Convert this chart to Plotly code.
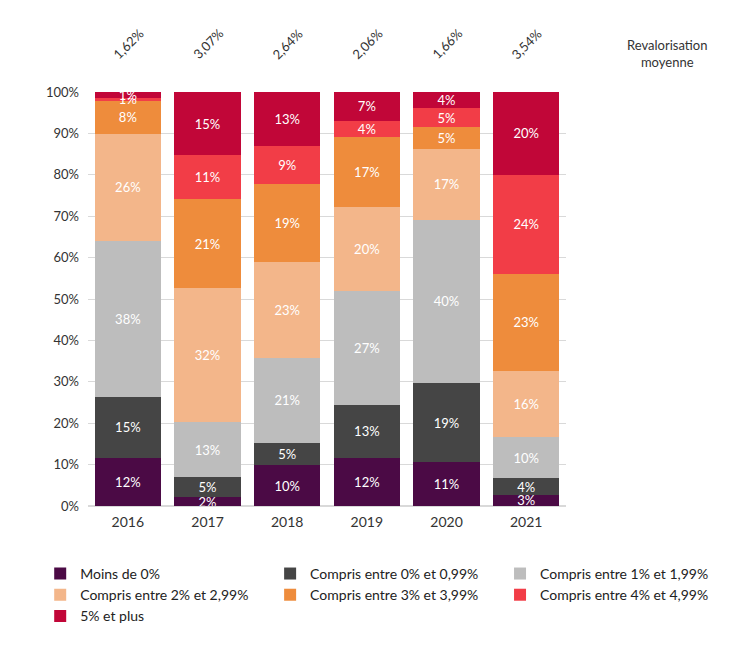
import plotly.graph_objects as go

years = ["2016", "2017", "2018", "2019", "2020", "2021"]
avg_labels = ["1,62%", "3,07%", "2,64%", "2,06%", "1,66%", "3,54%"]

series_names = [
    "Moins de 0%",
    "Compris entre 0% et 0,99%",
    "Compris entre 1% et 1,99%",
    "Compris entre 2% et 2,99%",
    "Compris entre 3% et 3,99%",
    "Compris entre 4% et 4,99%",
    "5% et plus",
]
moins_0 = [11.6, 2.1, 9.9, 11.7, 10.6, 2.7]
entre_0_099 = [14.8, 4.8, 5.3, 12.8, 19.0, 4.0]
entre_1_199 = [37.6, 13.4, 20.6, 27.4, 39.6, 10.0]
entre_2_299 = [25.9, 32.4, 23.1, 20.4, 17.1, 16.0]
entre_3_399 = [7.9, 21.4, 18.8, 16.9, 5.2, 23.3]
entre_4_499 = [0.8, 10.6, 9.3, 3.8, 4.6, 24.0]
plus_5 = [1.4, 15.3, 13.0, 7.0, 3.9, 20.0]

series_values = [moins_0, entre_0_099, entre_1_199, entre_2_299,
                 entre_3_399, entre_4_499, plus_5]
colors = ["#4B0A45", "#454545", "#BDBDBD", "#F3B68A", "#EE8C3C", "#F23D47", "#C10638"]
# legend column (3 columns, filled row by row like the reference)
legend_ids = ["legend", "legend2", "legend3", "legend", "legend2", "legend3", "legend"]

y_ticks = list(range(0, 101, 10))
y_tick_labels = [f"{v}%" for v in y_ticks]

FONT = "Lato"

fig = go.Figure()
for name, vals, col, lg in zip(series_names, series_values, colors, legend_ids):
    fig.add_trace(go.Bar(
        x=years, y=vals, name=name,
        marker=dict(color=col, line=dict(width=0)),
        texttemplate="%{y:.0f}%",
        textposition="inside",
        insidetextanchor="middle",
        textangle=0,
        textfont=dict(color="white", size=13, family=FONT),
        hoverinfo="skip",
        legend=lg,
    ))

for i, lab in enumerate(avg_labels):
    fig.add_annotation(x=i, xref="x", y=1.117, yref="paper",
                       xanchor="center", yanchor="middle",
                       text=lab, textangle=-45, showarrow=False,
                       font=dict(size=13, color="#333333", family=FONT))

fig.add_annotation(x=1.211, xref="paper", y=1.094, yref="paper",
                   xanchor="center", yanchor="middle",
                   text="Revalorisation<br>moyenne", showarrow=False,
                   align="center",
                   font=dict(size=13, color="#333333", family=FONT))

legend_common = dict(
    orientation="v",
    traceorder="normal",
    yref="container",
    yanchor="top",
    y=0.139,
    xanchor="left",
    font=dict(size=14, color="#222222", family=FONT),
    itemwidth=30,
    tracegroupgap=0,
    bgcolor="rgba(0,0,0,0)",
)

fig.update_layout(
    width=746, height=648,
    barmode="stack",
    bargap=0.17,
    plot_bgcolor="white",
    paper_bgcolor="white",
    margin=dict(l=88, r=180, t=92, b=142, autoexpand=False),
    font=dict(family=FONT, size=13, color="#333333"),
    uniformtext=dict(minsize=13, mode="show"),
    showlegend=True,
    legend=dict(legend_common, x=-0.100),
    legend2=dict(legend_common, x=0.381),
    legend3=dict(legend_common, x=0.862),
)
fig.update_xaxes(type="category", categoryorder="array", categoryarray=years,
                 range=[-0.5, 5.5], autorange=False,
                 showgrid=False, showline=False, ticks="",
                 ticklabelstandoff=6,
                 tickfont=dict(size=14, color="#333333"))
fig.update_yaxes(range=[0, 100], tickvals=y_ticks, ticktext=y_tick_labels,
                 showgrid=True, gridcolor="#D9D9D9", gridwidth=1,
                 zeroline=True, zerolinecolor="#D9D9D9",
                 showline=False, ticks="", ticklabelstandoff=8,
                 tickfont=dict(size=13, color="#333333"))

fig.write_html("out.html")
